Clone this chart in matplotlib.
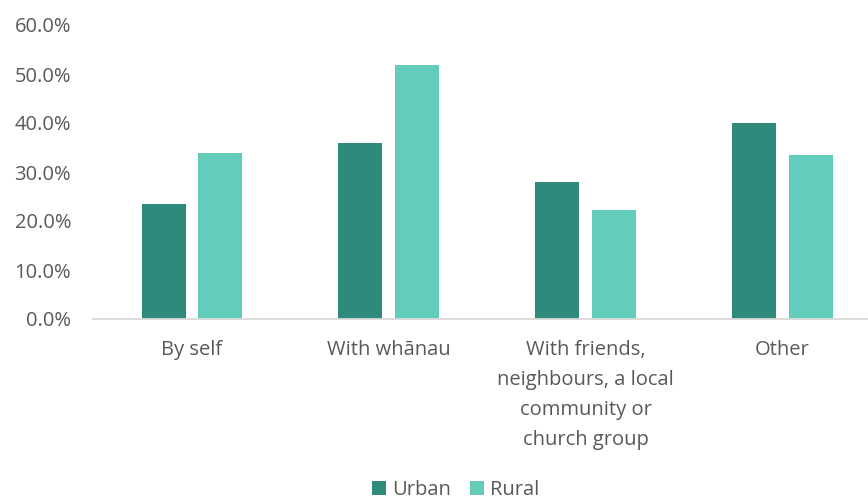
import matplotlib.pyplot as plt
import numpy as np

# who respondents live with, urban vs rural share (%)
categories = ['By self', 'With whānau',
              'With friends,\nneighbours, a local\ncommunity or\nchurch group',
              'Other']
urban = [23.5, 36.0, 28.0, 40.0]
rural = [33.8, 51.9, 22.2, 33.4]
series_names = ['Urban', 'Rural']
colors = ['#2E8B7B', '#63CDBB']

plt.rcParams['font.family'] = ['Open Sans', 'DejaVu Sans']


def main():
    fig = plt.figure(figsize=(8.68, 5.0), dpi=100)
    # plot area runs a little past the right edge of the figure
    ax = fig.add_axes([0.1074, 0.362, 0.9074, 0.588])

    x = np.arange(len(categories))
    width = 0.2235
    offset = 0.143

    ax.bar(x - offset, urban, width, color=colors[0], label=series_names[0])
    ax.bar(x + offset, rural, width, color=colors[1], label=series_names[1])

    ax.set_xlim(-0.5, len(categories) - 0.5)
    ax.set_ylim(0, 60)
    ax.set_yticks(np.arange(0, 61, 10))
    ax.set_yticklabels(['%.1f%%' % v for v in np.arange(0, 61, 10)])
    ax.set_xticks(x)
    ax.set_xticklabels(categories, linespacing=1.68, va='top')

    # only a light baseline, no other frame
    for side in ['top', 'right', 'left']:
        ax.spines[side].set_visible(False)
    ax.spines['bottom'].set_color('#D9D9D9')
    ax.spines['bottom'].set_linewidth(1.3)

    ax.tick_params(axis='y', length=0, pad=16, labelsize=14.5, labelcolor='#595959')
    ax.tick_params(axis='x', length=0, pad=15, labelsize=14.5, labelcolor='#595959')

    # legend below the chart
    fig.legend(loc='center', bbox_to_anchor=(0.525, 0.02), ncol=2,
               frameon=False, fontsize=14.5, labelcolor='#595959',
               handlelength=0.68, handleheight=0.68, handletextpad=0.3,
               columnspacing=0.95)

    fig.savefig('out.png', dpi=100)


if __name__ == '__main__':
    main()
